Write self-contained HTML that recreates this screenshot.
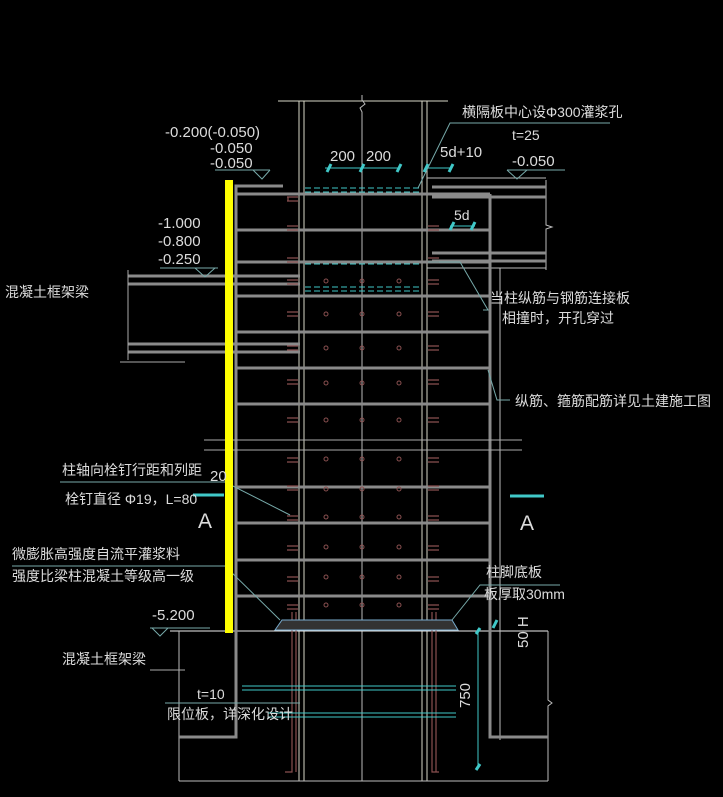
<!DOCTYPE html>
<html><head><meta charset="utf-8"><style>
html,body{margin:0;padding:0;background:#000;}
svg{display:block;}
text{font-family:"Liberation Sans","Noto Sans CJK SC",sans-serif;fill:#dcdcdc;}
</style></head><body>
<svg width="723" height="797" viewBox="0 0 723 797" xmlns="http://www.w3.org/2000/svg">
<rect width="723" height="797" fill="#000"/>
<g stroke="#d8d8c8" stroke-width="1" fill="none">
<line x1="278" y1="101" x2="448" y2="101"/>
<line x1="299" y1="101" x2="299" y2="781"/>
<line x1="304" y1="101" x2="304" y2="781"/>
<line x1="422" y1="101" x2="422" y2="781"/>
<line x1="427" y1="101" x2="427" y2="781"/>
<polyline points="362,95 362,100 365,104 360,108 362,112 362,781" stroke="#bbb"/>
<line x1="170" y1="631" x2="548" y2="631" stroke="#eee"/>
</g>
<g stroke="#bbb" stroke-width="1" fill="none">
<polyline points="546,180 546,225 552,227 546,229 546,270"/>
<line x1="427" y1="178" x2="546" y2="178"/>
<line x1="427" y1="268" x2="546" y2="268"/>
<line x1="500" y1="268" x2="500" y2="740"/>
<polyline points="548,631 548,700 552,703 548,706 548,781"/>
<line x1="179" y1="631" x2="179" y2="781"/>
<line x1="179" y1="781" x2="548" y2="781"/>
</g>
<g stroke="#8a8a8a" stroke-width="3" fill="none">
<polyline points="283,186 236,186 236,737 179,737"/>
<polyline points="490,194 490,737 548,737"/>
<line x1="236" y1="194" x2="490" y2="194"/>
<line x1="236" y1="230" x2="490" y2="230"/>
<line x1="236" y1="262" x2="490" y2="262"/>
<line x1="236" y1="296" x2="490" y2="296"/>
<line x1="236" y1="332" x2="490" y2="332"/>
<line x1="236" y1="368" x2="490" y2="368"/>
<line x1="236" y1="404" x2="490" y2="404"/>
<line x1="236" y1="487" x2="490" y2="487"/>
<line x1="236" y1="523" x2="490" y2="523"/>
<line x1="236" y1="560" x2="490" y2="560"/>
<line x1="236" y1="596" x2="490" y2="596"/>
<line x1="432" y1="187" x2="546" y2="187"/>
<line x1="432" y1="197" x2="546" y2="197"/>
<line x1="432" y1="253" x2="546" y2="253"/>
<line x1="432" y1="261" x2="546" y2="261"/>
<line x1="128" y1="276" x2="300" y2="276"/>
<line x1="128" y1="284" x2="300" y2="284"/>
<line x1="128" y1="344" x2="300" y2="344"/>
<line x1="128" y1="352" x2="300" y2="352"/>
</g>
<g stroke="#aaa" stroke-width="1" fill="none">
<line x1="204" y1="440" x2="522" y2="440"/>
<line x1="204" y1="450" x2="522" y2="450"/>
<line x1="128" y1="270" x2="128" y2="360"/>
<line x1="120" y1="362" x2="185" y2="362"/>
<line x1="150" y1="670" x2="185" y2="670"/>
</g>
<g stroke="#40c8c8" stroke-width="1" fill="none" stroke-dasharray="6,3">
<line x1="305" y1="188" x2="421" y2="188"/>
<line x1="305" y1="192" x2="421" y2="192"/>
<line x1="305" y1="264" x2="421" y2="264"/>
<line x1="305" y1="287" x2="421" y2="287"/>
<line x1="305" y1="291" x2="421" y2="291"/>
</g>
<g stroke="#8a5050" stroke-width="1.2" fill="none">
<path d="M287 197h11M287 201h11M288 197v4 M287 226h11M287 230h11 M287 258h11M287 262h11 M287 280h11M287 284h11 M287 312h11M287 316h11 M287 346h11M287 350h11 M287 380h11M287 384h11 M287 418h11M287 422h11 M287 458h11M287 462h11 M287 486h11M287 490h11 M287 516h11M287 520h11 M287 546h11M287 550h11 M287 577h11M287 581h11 M287 605h11M287 609h11"/>
<path d="M428 226h11M428 230h11 M428 258h11M428 262h11 M428 280h11M428 284h11 M428 312h11M428 316h11 M428 346h11M428 350h11 M428 380h11M428 384h11 M428 418h11M428 422h11 M428 458h11M428 462h11 M428 486h11M428 490h11 M428 516h11M428 520h11 M428 546h11M428 550h11 M428 577h11M428 581h11 M428 605h11M428 609h11"/>
<path d="M292 612v160h-7M296 612v160 M432 612v160h7M436 612v160"/>
</g>
<g stroke="#8a5050" stroke-width="1" fill="none">
<circle cx="326" cy="281" r="2"/><circle cx="362" cy="281" r="2"/><circle cx="399" cy="281" r="2"/>
<circle cx="326" cy="314" r="2"/><circle cx="362" cy="314" r="2"/><circle cx="399" cy="314" r="2"/>
<circle cx="326" cy="348" r="2"/><circle cx="362" cy="348" r="2"/><circle cx="399" cy="348" r="2"/>
<circle cx="326" cy="383" r="2"/><circle cx="362" cy="383" r="2"/><circle cx="399" cy="383" r="2"/>
<circle cx="326" cy="420" r="2"/><circle cx="362" cy="420" r="2"/><circle cx="399" cy="420" r="2"/>
<circle cx="326" cy="459" r="2"/><circle cx="362" cy="459" r="2"/><circle cx="399" cy="459" r="2"/>
<circle cx="326" cy="489" r="2"/><circle cx="362" cy="489" r="2"/><circle cx="399" cy="489" r="2"/>
<circle cx="326" cy="517" r="2"/><circle cx="362" cy="517" r="2"/><circle cx="399" cy="517" r="2"/>
<circle cx="326" cy="547" r="2"/><circle cx="362" cy="547" r="2"/><circle cx="399" cy="547" r="2"/>
<circle cx="326" cy="577" r="2"/><circle cx="362" cy="577" r="2"/><circle cx="399" cy="577" r="2"/>
<circle cx="326" cy="605" r="2"/><circle cx="362" cy="605" r="2"/><circle cx="399" cy="605" r="2"/>
</g>
<path d="M275 630 L282 620 L452 620 L458 630 Z" fill="#333" stroke="#7ac" stroke-width="1"/>
<g stroke="#40c8c8" stroke-width="1" fill="none">
<line x1="325" y1="168" x2="400" y2="168"/>
<line x1="425" y1="168" x2="452" y2="168"/>
<line x1="450" y1="226" x2="475" y2="226"/>
<line x1="242" y1="686" x2="456" y2="686"/>
<line x1="242" y1="690" x2="456" y2="690"/>
<line x1="268" y1="713" x2="456" y2="713"/>
<line x1="268" y1="717" x2="456" y2="717"/>
<line x1="478" y1="630" x2="478" y2="767"/>
</g>
<g stroke="#40c8c8" stroke-width="3">
<line x1="327" y1="172" x2="331" y2="164"/><line x1="360" y1="172" x2="364" y2="164"/><line x1="397" y1="172" x2="401" y2="164"/>
<line x1="424" y1="172" x2="428" y2="164"/><line x1="449" y1="172" x2="453" y2="164"/>
<line x1="450" y1="230" x2="454" y2="222"/><line x1="471" y1="230" x2="475" y2="222"/>
<line x1="193" y1="495" x2="224" y2="495"/><line x1="510" y1="496" x2="544" y2="496"/>
<line x1="476" y1="634" x2="480" y2="628"/><line x1="476" y1="770" x2="480" y2="764"/>
<line x1="493" y1="628" x2="497" y2="620"/>
</g>
<g stroke="#7aa" stroke-width="1" fill="none">
<polyline points="610,123 450,123 418,188"/>
<polyline points="483,310 488,310 460,262 428,262"/>
<polyline points="510,400 497,400 488,370"/>
<polyline points="60,482 225,482 290,515"/>
<polyline points="12,566 225,566 280,620"/>
<polyline points="560,585 480,585 452,620"/>
<polyline points="165,703 300,703"/>
<polyline points="215,170 270,170"/><polyline points="253,170 262,179 270,170"/>
<polyline points="507,170 565,170"/><polyline points="507,170 517,179 527,170"/>
<polyline points="160,268 218,268"/><polyline points="195,268 205,277 215,268"/>
<polyline points="150,628 210,628"/><polyline points="152,628 160,636 168,628"/>
</g>
<rect x="225" y="180" width="8" height="453" fill="#ffff00"/>
<g font-size="14">
<text x="462" y="117">横隔板中心设Φ300灌浆孔</text>
<text x="512" y="140">t=25</text>
<text x="165" y="137" font-size="15">-0.200(-0.050)</text>
<text x="210" y="153" font-size="15">-0.050</text>
<text x="210" y="168" font-size="15">-0.050</text>
<text x="330" y="161" font-size="15">200</text>
<text x="366" y="161" font-size="15">200</text>
<text x="440" y="157" font-size="15">5d+10</text>
<text x="512" y="166" font-size="15">-0.050</text>
<text x="454" y="220">5d</text>
<text x="158" y="228" font-size="15">-1.000</text>
<text x="158" y="246" font-size="15">-0.800</text>
<text x="158" y="264" font-size="15">-0.250</text>
<text x="5" y="297">混凝土框架梁</text>
<text x="490" y="303">当柱纵筋与钢筋连接板</text>
<text x="502" y="323">相撞时，开孔穿过</text>
<text x="515" y="406">纵筋、箍筋配筋详见土建施工图</text>
<text x="62" y="475">柱轴向栓钉行距和列距</text>
<text x="210" y="481" font-size="15">20</text>
<text x="65" y="504">栓钉直径 Φ19，L=80</text>
<text x="198" y="528" font-size="21">A</text>
<text x="520" y="530" font-size="21">A</text>
<text x="12" y="559">微膨胀高强度自流平灌浆料</text>
<text x="12" y="581">强度比梁柱混凝土等级高一级</text>
<text x="486" y="577">柱脚底板</text>
<text x="484" y="599">板厚取30mm</text>
<text x="152" y="620" font-size="15">-5.200</text>
<text x="62" y="664">混凝土框架梁</text>
<text x="197" y="699">t=10</text>
<text x="167" y="719">限位板，详深化设计</text>
<text transform="translate(470,708) rotate(-90)" font-size="15">750</text>
<text transform="translate(528,648) rotate(-90)" font-size="15">50 H</text>
</g>
</svg>
</body></html>
